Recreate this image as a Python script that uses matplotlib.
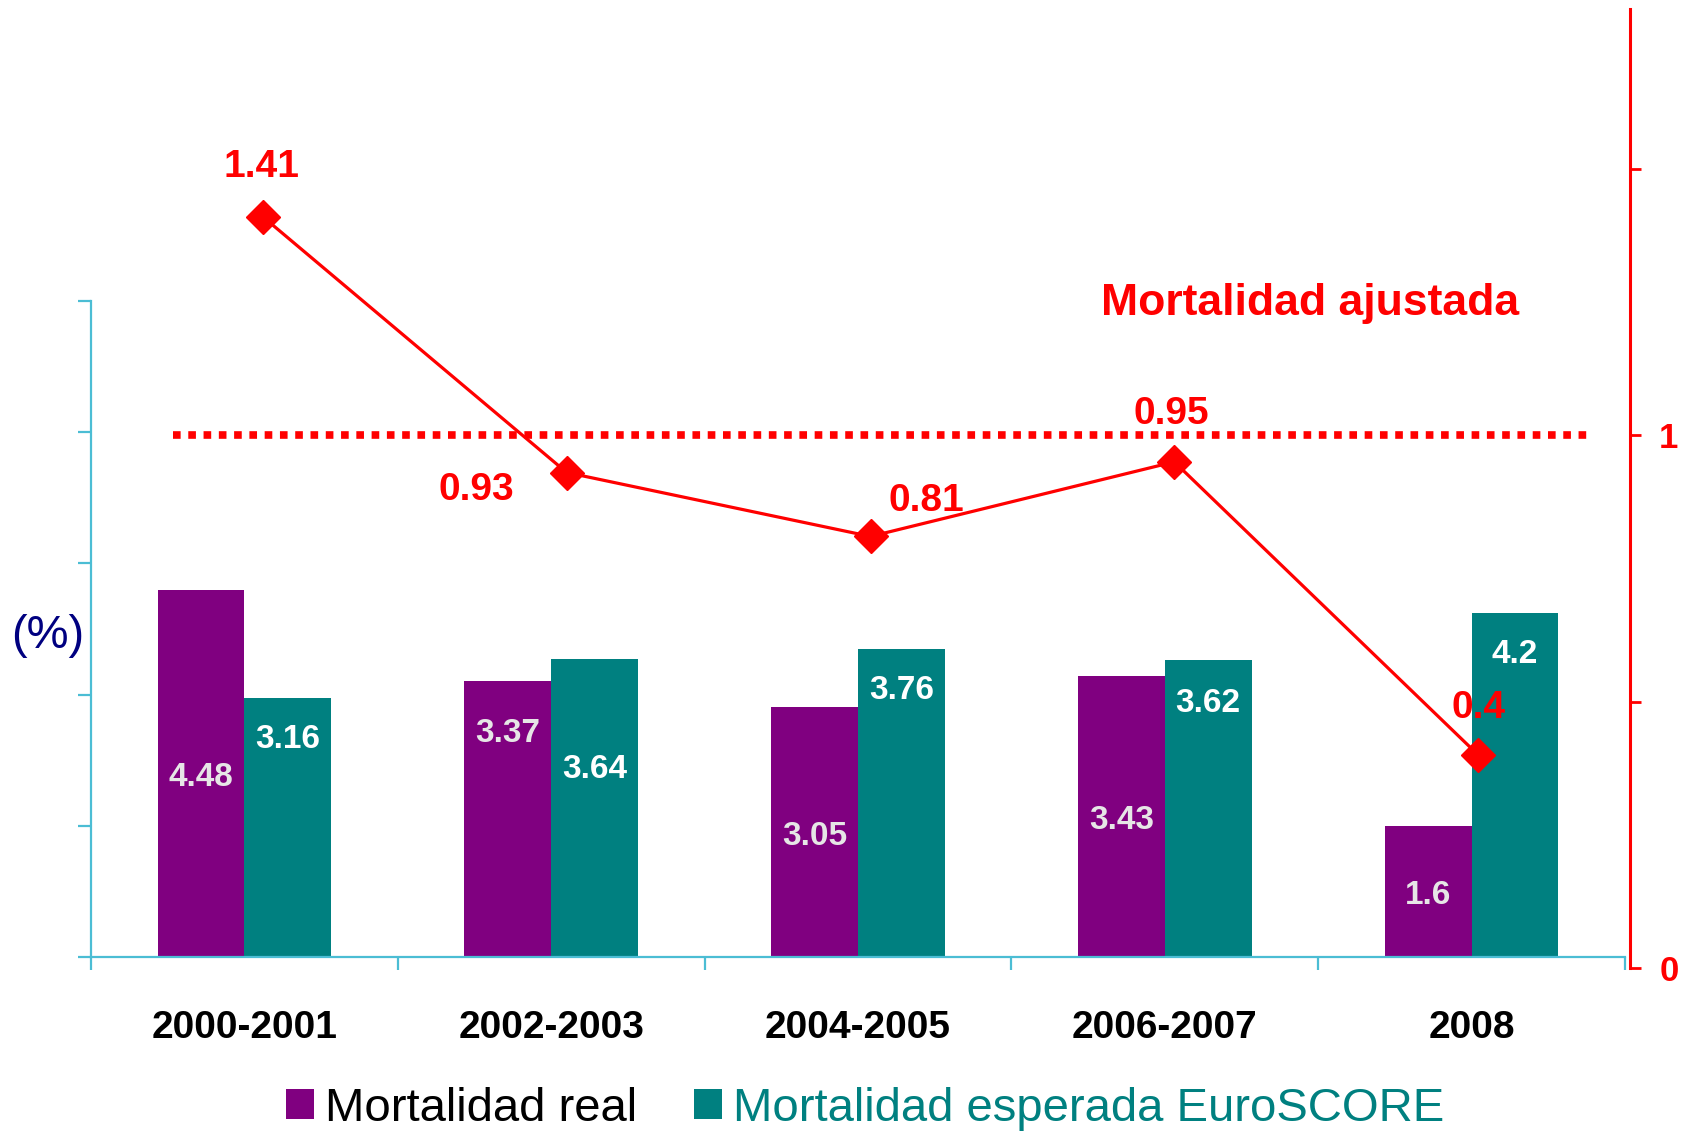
import matplotlib
matplotlib.use('Agg')
import matplotlib.pyplot as plt
import numpy as np

# data
periods = ['2000-2001', '2002-2003', '2004-2005', '2006-2007', '2008']
mort_real = [4.48, 3.37, 3.05, 3.43, 1.6]
mort_euroscore = [3.16, 3.64, 3.76, 3.62, 4.2]
mort_ajustada = [1.41, 0.93, 0.81, 0.95, 0.4]

# label placement (points below bar top, None = centred in the bar)
real_label_drop = [None, 38, None, None, None]
euro_label_drop = [30, 80, 30, 31, 30]
# offsets (points) of the adjusted-mortality labels from their markers
line_label_offsets = [(-1, 35.5), (-65, -12.5), (40, 25.5), (-2, 34.5), (0, 33.5)]

purple = '#800080'
teal = '#008080'
red = '#FF0000'
axis_blue = '#4BBDD4'
narrow = ['Liberation Sans Narrow', 'Liberation Sans', 'DejaVu Sans']
arial = ['Liberation Sans', 'DejaVu Sans']

W, H = 1682, 1134
fig = plt.figure(figsize=(W / 100, H / 100), dpi=100)


def px_axes(x0, y0, x1, y1):
    return fig.add_axes([x0 / W, 1 - y1 / H, (x1 - x0) / W, (y1 - y0) / H])


ax = px_axes(91, 301, 1625, 957)
ax2 = px_axes(111, 9, 1630, 968)
ax2.patch.set_visible(False)

# bars
x = np.arange(len(periods))
bw = 0.283
b1 = ax.bar(x - bw / 2, mort_real, bw, color=purple, label='Mortalidad real')
b2 = ax.bar(x + bw / 2, mort_euroscore, bw, color=teal,
            label='Mortalidad esperada EuroSCORE')
ax.set_xlim(-0.5, 4.5)
ax.set_ylim(0, 8)

bar_font = dict(fontsize=24, fontweight='bold', family=narrow)
for xi, v, drop in zip(x - bw / 2, mort_real, real_label_drop):
    if drop is None:
        ax.annotate(f'{v:g}', xy=(xi, v / 2), xytext=(0, -3), textcoords='offset points',
                    ha='center', va='center', color='#E6E6E6', **bar_font)
    else:
        ax.annotate(f'{v:g}', xy=(xi, v), xytext=(0, -drop), textcoords='offset points',
                    ha='center', va='center', color='#E6E6E6', **bar_font)
for xi, v, drop in zip(x + bw / 2, mort_euroscore, euro_label_drop):
    ax.annotate(f'{v:g}', xy=(xi, v), xytext=(0, -drop), textcoords='offset points',
                ha='center', va='center', color='white', **bar_font)

for s in ['top', 'right']:
    ax.spines[s].set_visible(False)
for s in ['left', 'bottom']:
    ax.spines[s].set_color(axis_blue)
    ax.spines[s].set_linewidth(1.6)
ax.set_yticks(np.arange(0, 8.01, 1.6))
ax.set_yticklabels([])
ax.set_xticks(np.arange(-0.5, 4.6, 1))
ax.set_xticklabels([])
ax.tick_params(axis='both', which='major', direction='out', length=9.5, width=1.6,
               color=axis_blue)
ax.set_xticks(x, minor=True)
ax.set_xticklabels(periods, minor=True, fontsize=28, fontweight='bold', family=arial)
ax.tick_params(axis='x', which='minor', length=0, pad=38.5)

# adjusted mortality line on secondary axis
ax2.plot(x, mort_ajustada, color=red, lw=2.3, marker='D', ms=17.5, zorder=3)
ax2.axhline(1, xmin=0.0406, xmax=0.974, color=red, lw=5.5, ls=(0, (1, 1)),
            dash_capstyle='butt')
ax2.set_xlim(-0.5, 4.5)
ax2.set_ylim(0, 1.8)
for xi, v, off in zip(x, mort_ajustada, line_label_offsets):
    ax2.annotate(f'{v:g}', xy=(xi, v), xytext=off, textcoords='offset points',
                 ha='center', va='center', color=red, fontsize=28,
                 fontweight='bold', family=arial, zorder=4)

for s in ['top', 'left', 'bottom']:
    ax2.spines[s].set_visible(False)
ax2.spines['right'].set_color(red)
ax2.spines['right'].set_linewidth(2.2)
ax2.set_xticks([])
ax2.yaxis.tick_right()
ax2.set_yticks([0, 0.5, 1, 1.5])
ax2.set_yticklabels(['0', '', '1', ''], fontsize=25, fontweight='bold', family=arial,
                    color=red)
ax2.tick_params(axis='y', direction='out', length=8, width=2, color=red, pad=13)

fig.text(1310 / W, 1 - 304 / H, 'Mortalidad ajustada', ha='center', va='center',
         color=red, fontsize=32, fontweight='bold', family=arial)
fig.text(48 / W, 1 - 636 / H, '(%)', ha='center', va='center', color='#000080',
         fontsize=34, family=narrow)

fig.legend(handles=[b1, b2], loc='center', bbox_to_anchor=(865 / W, 1 - 1109 / H),
           ncol=2, frameon=False, prop={'family': narrow, 'size': 34},
           handlelength=0.6, handleheight=0.6, handletextpad=0.23,
           columnspacing=1.2, labelcolor=['black', teal], borderpad=0)

fig.savefig('out.png', dpi=100)
